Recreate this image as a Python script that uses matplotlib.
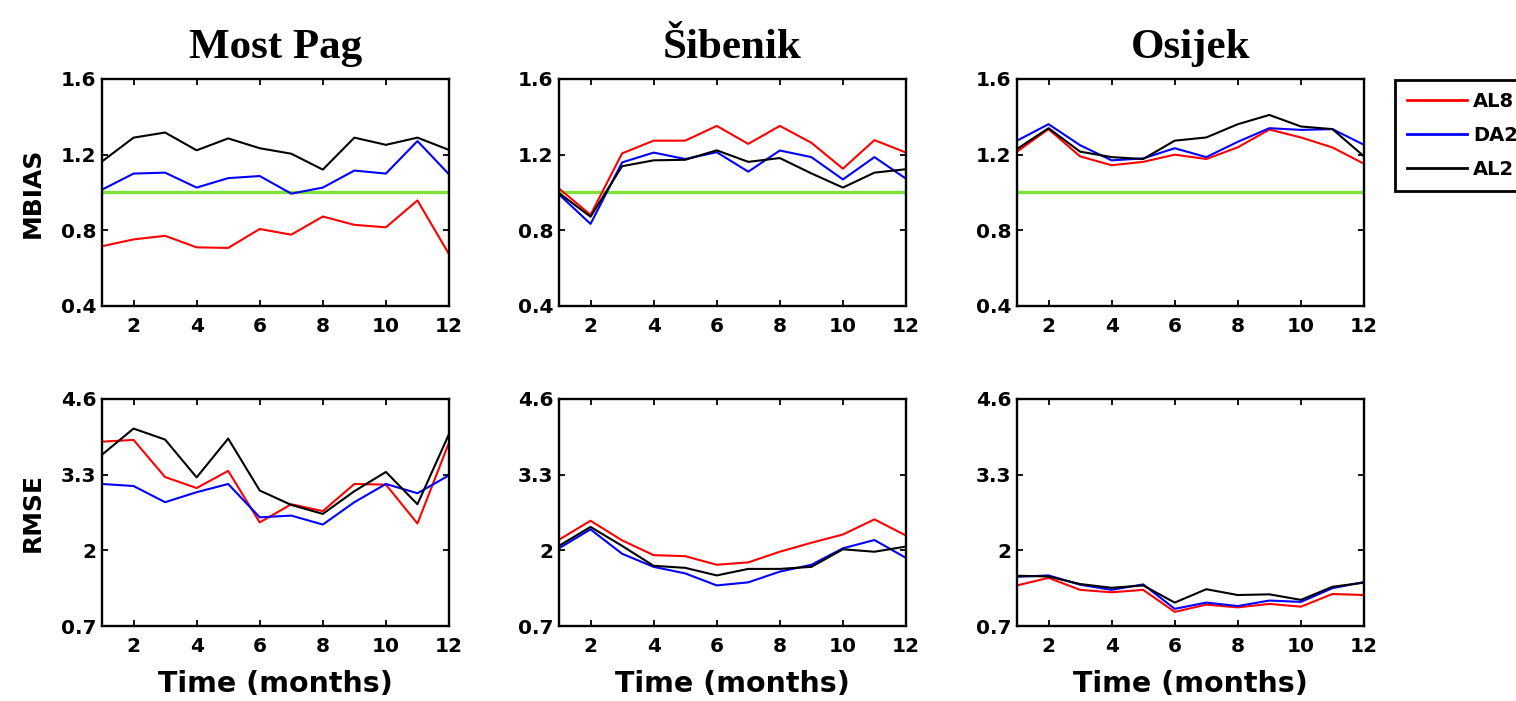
#! /usr/bin/env python
'''
MBIAS and RMSE per month for three stations, three model runs
'''

import matplotlib
matplotlib.use("Agg")
import matplotlib.pyplot as plt

months = list(range(1, 13))
stations = ["Most Pag", "Šibenik", "Osijek"]
runs = ["AL8", "DA2", "AL2"]
colors = ["#ff0000", "#0000ff", "#000000"]

# MBIAS, one list per run, per station
mbias_most_pag_al8 = [0.716, 0.752, 0.771, 0.710, 0.707, 0.807, 0.777, 0.873, 0.829, 0.816, 0.958, 0.674]
mbias_most_pag_da2 = [1.015, 1.100, 1.105, 1.026, 1.076, 1.087, 0.994, 1.026, 1.116, 1.100, 1.272, 1.096]
mbias_most_pag_al2 = [1.164, 1.290, 1.317, 1.223, 1.286, 1.234, 1.205, 1.121, 1.290, 1.252, 1.290, 1.225]

mbias_sibenik_al8 = [1.021, 0.882, 1.207, 1.274, 1.274, 1.352, 1.257, 1.352, 1.263, 1.126, 1.277, 1.211]
mbias_sibenik_da2 = [0.990, 0.834, 1.159, 1.211, 1.177, 1.213, 1.110, 1.222, 1.187, 1.069, 1.187, 1.073]
mbias_sibenik_al2 = [0.997, 0.872, 1.139, 1.170, 1.173, 1.223, 1.162, 1.182, 1.101, 1.026, 1.105, 1.123]

mbias_osijek_al8 = [1.216, 1.335, 1.191, 1.144, 1.162, 1.200, 1.177, 1.239, 1.333, 1.291, 1.238, 1.152]
mbias_osijek_da2 = [1.274, 1.361, 1.250, 1.170, 1.180, 1.234, 1.187, 1.268, 1.340, 1.331, 1.335, 1.252]
mbias_osijek_al2 = [1.230, 1.340, 1.216, 1.187, 1.177, 1.274, 1.291, 1.361, 1.410, 1.349, 1.335, 1.191]

# RMSE
rmse_most_pag_al8 = [3.867, 3.897, 3.259, 3.070, 3.365, 2.479, 2.792, 2.674, 3.140, 3.129, 2.461, 3.850]
rmse_most_pag_da2 = [3.140, 3.105, 2.827, 2.999, 3.140, 2.567, 2.597, 2.443, 2.827, 3.140, 2.981, 3.288]
rmse_most_pag_al2 = [3.643, 4.092, 3.903, 3.253, 3.920, 3.028, 2.780, 2.626, 3.016, 3.347, 2.792, 3.997]

rmse_sibenik_al8 = [2.183, 2.508, 2.171, 1.917, 1.900, 1.752, 1.793, 1.976, 2.130, 2.272, 2.532, 2.254]
rmse_sibenik_da2 = [2.035, 2.360, 1.941, 1.716, 1.604, 1.397, 1.450, 1.634, 1.752, 2.035, 2.177, 1.870]
rmse_sibenik_al2 = [2.077, 2.402, 2.077, 1.734, 1.699, 1.569, 1.681, 1.681, 1.716, 2.018, 1.976, 2.065]

rmse_osijek_al8 = [1.397, 1.527, 1.321, 1.279, 1.321, 0.943, 1.067, 1.020, 1.079, 1.032, 1.250, 1.232]
rmse_osijek_da2 = [1.545, 1.569, 1.409, 1.321, 1.415, 0.995, 1.102, 1.043, 1.137, 1.114, 1.350, 1.456]
rmse_osijek_al2 = [1.563, 1.551, 1.421, 1.356, 1.397, 1.102, 1.332, 1.232, 1.244, 1.149, 1.374, 1.444]

mbias = [
   [mbias_most_pag_al8, mbias_most_pag_da2, mbias_most_pag_al2],
   [mbias_sibenik_al8, mbias_sibenik_da2, mbias_sibenik_al2],
   [mbias_osijek_al8, mbias_osijek_da2, mbias_osijek_al2],
]
rmse = [
   [rmse_most_pag_al8, rmse_most_pag_da2, rmse_most_pag_al2],
   [rmse_sibenik_al8, rmse_sibenik_da2, rmse_sibenik_al2],
   [rmse_osijek_al8, rmse_osijek_da2, rmse_osijek_al2],
]

xticks = [2, 4, 6, 8, 10, 12]
mbias_ticks = [0.4, 0.8, 1.2, 1.6]
mbias_ticklabels = ["0.4", "0.8", "1.2", "1.6"]
rmse_ticks = [0.7, 2, 3.3, 4.6]
rmse_ticklabels = ["0.7", "2", "3.3", "4.6"]

plt.rcParams['font.family'] = 'DejaVu Sans'
plt.rcParams['font.weight'] = 'bold'

W, H = 1516, 701
fig = plt.figure(figsize=(W / 100, H / 100), dpi=100)

lefts = [102, 559, 1017]
width = 347
tops = [79, 399]
height = 227


def style_axes(ax):
   for s in ax.spines.values():
      s.set_linewidth(1.7)
   ax.tick_params(direction='in', top=True, right=True, length=4, width=1.3,
                  labelsize=14.5)
   ax.tick_params(axis='x', pad=8)
   ax.tick_params(axis='y', pad=4)
   for lab in ax.get_xticklabels() + ax.get_yticklabels():
      lab.set_fontweight('bold')


handles = None
for col in range(3):
   # top row: MBIAS
   ax = fig.add_axes([lefts[col] / W, 1 - (tops[0] + height) / H, width / W, height / H])
   lines = []
   for k in range(3):
      ln, = ax.plot(months, mbias[col][k], color=colors[k], lw=1.5, label=runs[k])
      lines.append(ln)
   ax.axhline(1.0, color='#7fe23a', lw=2.4, zorder=1)
   ax.set_xlim(1, 12)
   ax.set_ylim(0.4, 1.6)
   ax.set_xticks(xticks)
   ax.set_yticks(mbias_ticks)
   ax.set_yticklabels(mbias_ticklabels)
   style_axes(ax)
   ax.set_title(stations[col], fontfamily='Liberation Serif', fontweight='bold',
                fontsize=31, pad=15)
   if col == 0:
      ax.set_ylabel("MBIAS", fontsize=18, fontweight='bold', labelpad=12)
      handles = lines

   # bottom row: RMSE
   ax = fig.add_axes([lefts[col] / W, 1 - (tops[1] + height) / H, width / W, height / H])
   for k in range(3):
      ax.plot(months, rmse[col][k], color=colors[k], lw=1.5)
   ax.set_xlim(1, 12)
   ax.set_ylim(0.7, 4.6)
   ax.set_xticks(xticks)
   ax.set_yticks(rmse_ticks)
   ax.set_yticklabels(rmse_ticklabels)
   style_axes(ax)
   ax.set_xlabel("Time (months)", fontsize=20.5, fontweight='bold', labelpad=10)
   if col == 0:
      ax.set_ylabel("RMSE", fontsize=18, fontweight='bold', labelpad=12)

# legend sits at the right edge, as in the original figure
leg = fig.legend(handles, runs, loc='upper left',
                 bbox_to_anchor=(1395 / W, 1 - 80 / H), bbox_transform=fig.transFigure,
                 frameon=True, fancybox=False, framealpha=1, fontsize=14,
                 handlelength=3.1, handletextpad=0.3, labelspacing=0.78,
                 borderpad=0.6, borderaxespad=0)
leg.get_frame().set_edgecolor('black')
leg.get_frame().set_linewidth(2.0)
for t in leg.get_texts():
   t.set_fontweight('bold')
for ln in leg.get_lines():
   ln.set_linewidth(2.0)

fig.savefig("out.png", dpi=100, facecolor='white')
